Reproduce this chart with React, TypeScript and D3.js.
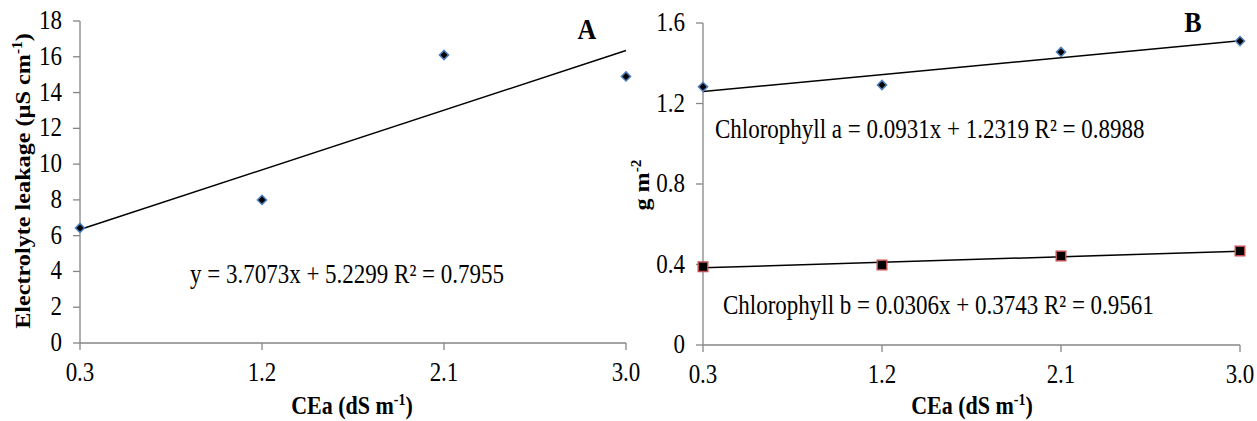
import React from "react";
import * as d3 from "d3";

const categories = [0.3, 1.2, 2.1, 3.0];
const categoryLabels = ["0.3", "1.2", "2.1", "3.0"];
const leakage = [6.43, 8.0, 16.1, 14.9];
const leakageFit = [3.7073, 5.2299];
const chlA = [1.283, 1.292, 1.456, 1.51];
const chlAFit = [0.0931, 1.2319];
const chlB = [0.389, 0.398, 0.442, 0.467];
const chlBFit = [0.0306, 0.3743];
const ticksA = [0, 2, 4, 6, 8, 10, 12, 14, 16, 18];
const ticksB = [0, 0.4, 0.8, 1.2, 1.6];

const FONT = "'Liberation Serif', 'Times New Roman', serif";
const AXIS = "#868686";
const S = 1.17; // vertical stretch of the text in the reference

type Series = { values: number[]; fit: number[]; marker: "diamond" | "square" };

function T(props: { x: number; y: number; rotate?: boolean; children: React.ReactNode; [k: string]: any }) {
  const { x, y, rotate, children, ...rest } = props;
  const tr = rotate
    ? `translate(${x},${y}) scale(1,1.1) rotate(-90)`
    : `translate(${x},${y}) scale(1,${S})`;
  return (
    <text transform={tr} {...rest}>
      {children}
    </text>
  );
}

function Marker({ x, y, kind }: { x: number; y: number; kind: string }) {
  if (kind === "diamond") {
    const p = d3.symbol(d3.symbolSquare, 42)();
    return (
      <path d={p || ""} transform={`translate(${x},${y}) rotate(45)`} fill="#000" stroke="#4f81bd" strokeWidth={1.5} />
    );
  }
  const p = d3.symbol(d3.symbolSquare, 90)();
  return <path d={p || ""} transform={`translate(${x},${y})`} fill="#000" stroke="#c0504d" strokeWidth={1.5} />;
}

function Panel(props: {
  x0: number; x1: number; y0: number; y1: number; yMax: number; ticks: number[]; tickFmt: (v: number) => string;
  series: Series[]; yTitle: React.ReactNode; yTitleX: number; yTitleY: number; letter: string; letterX: number; letterY: number;
  labels: { text: React.ReactNode; x: number; y: number }[]; xTitleX: number;
}) {
  const xs = d3.scaleLinear().domain([0.3, 3.0]).range([props.x0, props.x1]);
  const ys = d3.scaleLinear().domain([0, props.yMax]).range([props.y1, props.y0]);
  return (
    <g fontFamily={FONT}>
      <line x1={props.x0} x2={props.x0} y1={ys(props.yMax)} y2={ys(0)} stroke={AXIS} strokeWidth={1.3} />
      {props.ticks.map((t) => (
        <g key={t}>
          <line x1={props.x0 - 7} x2={props.x0} y1={ys(t)} y2={ys(t)} stroke={AXIS} strokeWidth={1.3} />
          <T x={props.x0 - 18} y={ys(t) + 8} textAnchor="end" fontSize={23}>{props.tickFmt(t)}</T>
        </g>
      ))}
      <line x1={props.x0} x2={props.x1} y1={ys(0)} y2={ys(0)} stroke={AXIS} strokeWidth={1.3} />
      {categories.map((c, i) => (
        <g key={c}>
          <line x1={xs(c)} x2={xs(c)} y1={ys(0)} y2={ys(0) + 7} stroke={AXIS} strokeWidth={1.3} />
          <T x={xs(c)} y={ys(0) + 38} textAnchor="middle" fontSize={23}>{categoryLabels[i]}</T>
        </g>
      ))}
      <T x={props.xTitleX} y={414} textAnchor="middle" fontSize={22} fontWeight="bold">
        CEa (dS m<tspan dy={-8} fontSize={14}>-1</tspan><tspan dy={8}>)</tspan>
      </T>
      <T x={props.yTitleX} y={props.yTitleY} rotate textAnchor="middle" fontSize={22} fontWeight="bold">
        {props.yTitle}
      </T>
      {props.series.map((s, si) => (
        <g key={si}>
          <line x1={xs(0.3)} x2={xs(3.0)} y1={ys(s.fit[0] * 0.3 + s.fit[1])} y2={ys(s.fit[0] * 3.0 + s.fit[1])} stroke="#000" strokeWidth={1.5} />
          {s.values.map((v, i) => (
            <Marker key={i} x={xs(categories[i])} y={ys(v)} kind={s.marker} />
          ))}
        </g>
      ))}
      {props.labels.map((l, i) => (
        <T key={i} x={l.x} y={l.y} fontSize={23}>{l.text}</T>
      ))}
      <T x={props.letterX} y={props.letterY} textAnchor="middle" fontSize={26} fontWeight="bold">{props.letter}</T>
    </g>
  );
}

export default function App() {
  return (
    <svg width={1257} height={421} style={{ position: "absolute", left: 0, top: 0, background: "#fff" }}>
      <Panel
        x0={80} x1={626} y0={21} y1={343} yMax={18} ticks={ticksA} tickFmt={(v) => String(v)}
        series={[{ values: leakage, fit: leakageFit, marker: "diamond" }]}
        yTitle={<>Electrolyte leakage (µS cm<tspan dy={-8} fontSize={14}>-1</tspan><tspan dy={8}>)</tspan></>}
        yTitleX={30} yTitleY={181} letter="A" letterX={587} letterY={39}
        labels={[{ text: "y = 3.7073x + 5.2299 R² = 0.7955", x: 190, y: 283 }]}
        xTitleX={352}
      />
      <Panel
        x0={703} x1={1240} y0={23} y1={345} yMax={1.6} ticks={ticksB} tickFmt={(v) => (v === 0 ? "0" : v.toFixed(1))}
        series={[
          { values: chlA, fit: chlAFit, marker: "diamond" },
          { values: chlB, fit: chlBFit, marker: "square" },
        ]}
        yTitle={<>g m<tspan dy={-8} fontSize={14}>-2</tspan></>}
        yTitleX={649} yTitleY={185} letter="B" letterX={1193} letterY={32}
        labels={[
          { text: "Chlorophyll a = 0.0931x + 1.2319 R² = 0.8988", x: 715, y: 138 },
          { text: "Chlorophyll b = 0.0306x + 0.3743 R² = 0.9561", x: 723, y: 314 },
        ]}
        xTitleX={972}
      />
    </svg>
  );
}
